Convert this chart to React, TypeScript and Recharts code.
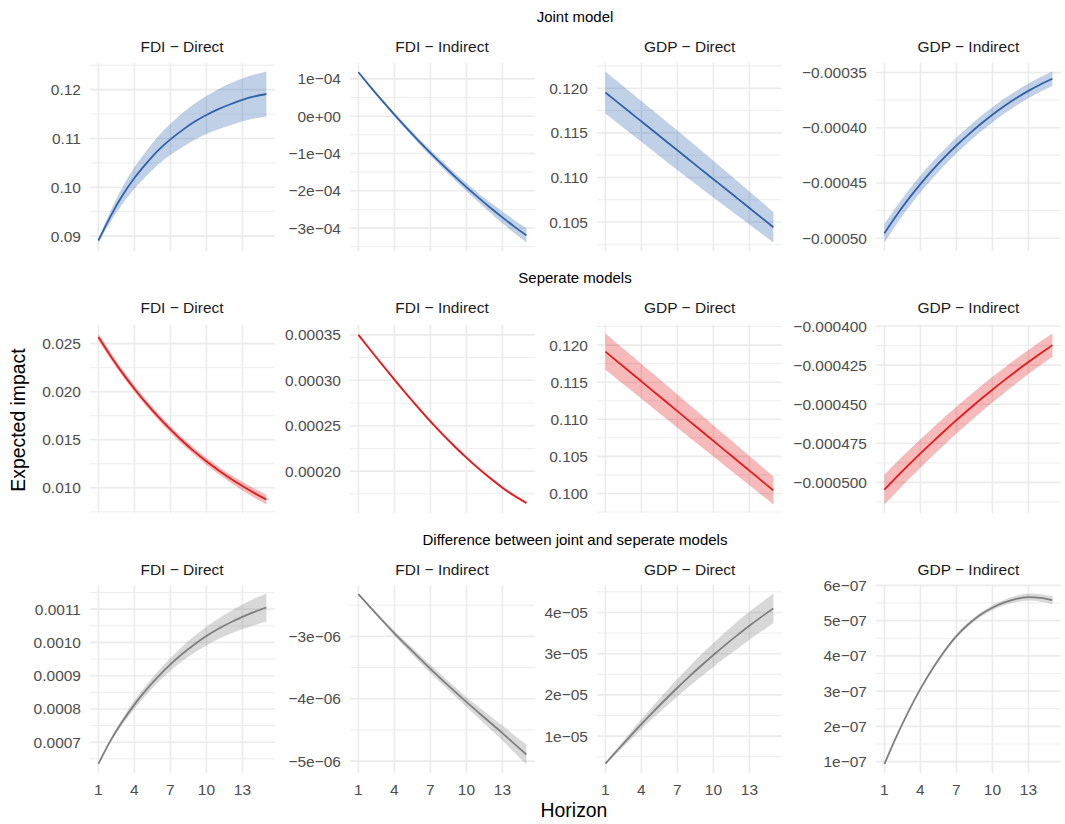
import React from "react";
import { Area, CartesianGrid, ComposedChart, Line, XAxis, YAxis } from "recharts";

// Horizon (x) values shared by every panel
const HORIZON = [1, 2, 3, 4, 5, 6, 7, 8, 9, 10, 11, 12, 13, 14, 15];
const X_TICKS = [1, 4, 7, 10, 13];

const SECTION_TITLES = [
  "Joint model",
  "Seperate models",
  "Difference between joint and seperate models",
];
const PANEL_TITLES = ["FDI − Direct", "FDI − Indirect", "GDP − Direct", "GDP − Indirect"];

// ---- Joint model ----
const jointFdiDirMean = [0.0891, 0.094, 0.0983, 0.1019, 0.1049, 0.1076, 0.1098, 0.1117, 0.1134, 0.1148, 0.116, 0.117, 0.1179, 0.1186, 0.1191];
const jointFdiDirLo = [0.0887, 0.0929, 0.0966, 0.0997, 0.1023, 0.1047, 0.1066, 0.1082, 0.1097, 0.1109, 0.1119, 0.1127, 0.1135, 0.1141, 0.1145];
const jointFdiDirHi = [0.0895, 0.0951, 0.1, 0.1041, 0.1075, 0.1105, 0.113, 0.1152, 0.1171, 0.1187, 0.1201, 0.1213, 0.1223, 0.1231, 0.1237];

const jointFdiIndMean = [1.177e-4, 0.787e-4, 0.409e-4, 0.043e-4, -0.311e-4, -0.653e-4, -0.983e-4, -1.301e-4, -1.607e-4, -1.901e-4, -2.183e-4, -2.454e-4, -2.713e-4, -2.96e-4, -3.195e-4];
const jointFdiIndLo = [1.157e-4, 0.757e-4, 0.369e-4, -0.007e-4, -0.371e-4, -0.723e-4, -1.063e-4, -1.391e-4, -1.707e-4, -2.011e-4, -2.303e-4, -2.594e-4, -2.873e-4, -3.13e-4, -3.385e-4];
const jointFdiIndHi = [1.197e-4, 0.817e-4, 0.449e-4, 0.093e-4, -0.251e-4, -0.583e-4, -0.903e-4, -1.211e-4, -1.507e-4, -1.791e-4, -2.063e-4, -2.314e-4, -2.553e-4, -2.79e-4, -3.005e-4];

const jointGdpDirMean = [0.11952, 0.11844, 0.11736, 0.11628, 0.1152, 0.11412, 0.11304, 0.11196, 0.11088, 0.1098, 0.10873, 0.10765, 0.10657, 0.10549, 0.10441];
const jointGdpDirLo = [0.11717, 0.11611, 0.11505, 0.11399, 0.11293, 0.11188, 0.11083, 0.10979, 0.10876, 0.10774, 0.10673, 0.10572, 0.10471, 0.10371, 0.10271];
const jointGdpDirHi = [0.12187, 0.12077, 0.11967, 0.11857, 0.11747, 0.11636, 0.11525, 0.11413, 0.113, 0.11186, 0.11073, 0.10958, 0.10843, 0.10727, 0.10611];

const jointGdpIndMean = [-4.955e-4, -4.794e-4, -4.646e-4, -4.51e-4, -4.384e-4, -4.268e-4, -4.161e-4, -4.062e-4, -3.969e-4, -3.883e-4, -3.804e-4, -3.732e-4, -3.667e-4, -3.609e-4, -3.557e-4];
const jointGdpIndLo = [-5.038e-4, -4.875e-4, -4.725e-4, -4.587e-4, -4.459e-4, -4.341e-4, -4.233e-4, -4.133e-4, -4.039e-4, -3.952e-4, -3.872e-4, -3.799e-4, -3.733e-4, -3.674e-4, -3.622e-4];
const jointGdpIndHi = [-4.872e-4, -4.713e-4, -4.567e-4, -4.433e-4, -4.309e-4, -4.195e-4, -4.089e-4, -3.991e-4, -3.899e-4, -3.814e-4, -3.736e-4, -3.665e-4, -3.601e-4, -3.544e-4, -3.492e-4];

// ---- Separate models ----
const sepFdiDirMean = [0.02569, 0.02375, 0.02196, 0.02031, 0.01878, 0.01737, 0.01607, 0.01487, 0.01377, 0.01276, 0.01183, 0.01097, 0.01018, 0.00945, 0.00878];
const sepFdiDirLo = [0.02533, 0.0234, 0.02162, 0.01998, 0.01845, 0.01704, 0.01573, 0.01452, 0.01341, 0.01238, 0.01143, 0.01055, 0.00973, 0.00897, 0.00827];
const sepFdiDirHi = [0.02605, 0.0241, 0.0223, 0.02064, 0.01911, 0.0177, 0.01641, 0.01522, 0.01413, 0.01314, 0.01223, 0.01139, 0.01063, 0.00993, 0.00929];

const sepFdiIndMean = [3.5e-4, 3.334e-4, 3.17e-4, 3.007e-4, 2.849e-4, 2.696e-4, 2.547e-4, 2.407e-4, 2.274e-4, 2.149e-4, 2.031e-4, 1.921e-4, 1.818e-4, 1.728e-4, 1.648e-4];
const sepFdiIndLo = [3.485e-4, 3.319e-4, 3.155e-4, 2.992e-4, 2.834e-4, 2.681e-4, 2.532e-4, 2.392e-4, 2.259e-4, 2.134e-4, 2.016e-4, 1.906e-4, 1.803e-4, 1.713e-4, 1.633e-4];
const sepFdiIndHi = [3.515e-4, 3.349e-4, 3.185e-4, 3.022e-4, 2.864e-4, 2.711e-4, 2.562e-4, 2.422e-4, 2.289e-4, 2.164e-4, 2.046e-4, 1.936e-4, 1.833e-4, 1.743e-4, 1.663e-4];

const sepGdpDirMean = [0.11912, 0.11778, 0.11645, 0.11511, 0.11377, 0.11244, 0.1111, 0.10976, 0.10843, 0.10709, 0.10575, 0.10442, 0.10308, 0.10174, 0.1004];
const sepGdpDirLo = [0.11668, 0.11537, 0.11407, 0.11276, 0.11145, 0.11016, 0.10886, 0.10756, 0.10627, 0.10497, 0.10368, 0.1024, 0.10111, 0.09981, 0.09852];
const sepGdpDirHi = [0.12156, 0.12019, 0.11883, 0.11746, 0.11609, 0.11472, 0.11334, 0.11196, 0.11059, 0.10921, 0.10782, 0.10644, 0.10505, 0.10367, 0.10228];

const sepGdpIndMean = [-5.046e-4, -4.967e-4, -4.89e-4, -4.815e-4, -4.742e-4, -4.671e-4, -4.602e-4, -4.535e-4, -4.47e-4, -4.407e-4, -4.346e-4, -4.287e-4, -4.23e-4, -4.175e-4, -4.122e-4];
const sepGdpIndLo = [-5.141e-4, -5.061e-4, -4.982e-4, -4.906e-4, -4.831e-4, -4.759e-4, -4.688e-4, -4.62e-4, -4.553e-4, -4.489e-4, -4.426e-4, -4.366e-4, -4.307e-4, -4.251e-4, -4.196e-4];
const sepGdpIndHi = [-4.951e-4, -4.873e-4, -4.798e-4, -4.724e-4, -4.653e-4, -4.583e-4, -4.516e-4, -4.45e-4, -4.387e-4, -4.325e-4, -4.266e-4, -4.208e-4, -4.153e-4, -4.099e-4, -4.048e-4];

// ---- Difference ----
const diffFdiDirMean = [6.35e-4, 7.04e-4, 7.62e-4, 8.13e-4, 8.58e-4, 8.98e-4, 9.34e-4, 9.66e-4, 9.94e-4, 10.19e-4, 10.41e-4, 10.6e-4, 10.77e-4, 10.92e-4, 11.05e-4];
const diffFdiDirLo = [6.33e-4, 6.99e-4, 7.53e-4, 8.0e-4, 8.43e-4, 8.81e-4, 9.15e-4, 9.44e-4, 9.69e-4, 9.91e-4, 10.1e-4, 10.26e-4, 10.4e-4, 10.52e-4, 10.63e-4];
const diffFdiDirHi = [6.37e-4, 7.09e-4, 7.71e-4, 8.26e-4, 8.73e-4, 9.15e-4, 9.53e-4, 9.88e-4, 10.19e-4, 10.47e-4, 10.72e-4, 10.94e-4, 11.14e-4, 11.32e-4, 11.47e-4];

const diffFdiIndMean = [-2.323e-6, -2.535e-6, -2.745e-6, -2.95e-6, -3.143e-6, -3.333e-6, -3.52e-6, -3.7e-6, -3.877e-6, -4.05e-6, -4.218e-6, -4.385e-6, -4.55e-6, -4.723e-6, -4.893e-6];
const diffFdiIndLo = [-2.333e-6, -2.555e-6, -2.775e-6, -2.99e-6, -3.193e-6, -3.393e-6, -3.585e-6, -3.77e-6, -3.952e-6, -4.13e-6, -4.308e-6, -4.49e-6, -4.67e-6, -4.863e-6, -5.053e-6];
const diffFdiIndHi = [-2.313e-6, -2.515e-6, -2.715e-6, -2.91e-6, -3.093e-6, -3.273e-6, -3.455e-6, -3.63e-6, -3.802e-6, -3.97e-6, -4.128e-6, -4.28e-6, -4.43e-6, -4.583e-6, -4.733e-6];

const diffGdpDirMean = [0.333e-5, 0.657e-5, 0.976e-5, 1.29e-5, 1.594e-5, 1.889e-5, 2.174e-5, 2.449e-5, 2.714e-5, 2.969e-5, 3.215e-5, 3.451e-5, 3.677e-5, 3.893e-5, 4.099e-5];
const diffGdpDirLo = [0.313e-5, 0.597e-5, 0.886e-5, 1.17e-5, 1.444e-5, 1.709e-5, 1.964e-5, 2.209e-5, 2.444e-5, 2.679e-5, 2.905e-5, 3.121e-5, 3.337e-5, 3.543e-5, 3.739e-5];
const diffGdpDirHi = [0.353e-5, 0.717e-5, 1.066e-5, 1.41e-5, 1.744e-5, 2.069e-5, 2.384e-5, 2.689e-5, 2.984e-5, 3.259e-5, 3.525e-5, 3.781e-5, 4.017e-5, 4.243e-5, 4.459e-5];

const diffGdpIndMean = [0.93e-7, 1.708e-7, 2.419e-7, 3.064e-7, 3.63e-7, 4.129e-7, 4.561e-7, 4.896e-7, 5.164e-7, 5.364e-7, 5.514e-7, 5.614e-7, 5.667e-7, 5.642e-7, 5.582e-7];
const diffGdpIndLo = [0.92e-7, 1.688e-7, 2.389e-7, 3.029e-7, 3.59e-7, 4.084e-7, 4.511e-7, 4.841e-7, 5.104e-7, 5.294e-7, 5.434e-7, 5.524e-7, 5.567e-7, 5.537e-7, 5.472e-7];
const diffGdpIndHi = [0.94e-7, 1.728e-7, 2.449e-7, 3.099e-7, 3.67e-7, 4.174e-7, 4.611e-7, 4.951e-7, 5.224e-7, 5.434e-7, 5.594e-7, 5.704e-7, 5.767e-7, 5.747e-7, 5.692e-7];

// ---- y-axis ticks per panel (major with labels, minor for grid only) ----
const ticksDec2 = [0.09, 0.1, 0.11, 0.12];
const labelsDec2 = ["0.09", "0.10", "0.11", "0.12"];
const ticksE4 = [-3e-4, -2e-4, -1e-4, 0, 1e-4];
const labelsE4 = ["−3e−04", "−2e−04", "−1e−04", "0e+00", "1e−04"];
const ticksGdpJ = [0.105, 0.11, 0.115, 0.12];
const labelsGdpJ = ["0.105", "0.110", "0.115", "0.120"];
const ticksGdpIndJ = [-5e-4, -4.5e-4, -4e-4, -3.5e-4];
const labelsGdpIndJ = ["−0.00050", "−0.00045", "−0.00040", "−0.00035"];
const ticksFdiS = [0.01, 0.015, 0.02, 0.025];
const labelsFdiS = ["0.010", "0.015", "0.020", "0.025"];
const ticksFdiIndS = [2e-4, 2.5e-4, 3e-4, 3.5e-4];
const labelsFdiIndS = ["0.00020", "0.00025", "0.00030", "0.00035"];
const ticksGdpS = [0.1, 0.105, 0.11, 0.115, 0.12];
const labelsGdpS = ["0.100", "0.105", "0.110", "0.115", "0.120"];
const ticksGdpIndS = [-5e-4, -4.75e-4, -4.5e-4, -4.25e-4, -4e-4];
const labelsGdpIndS = ["−0.000500", "−0.000475", "−0.000450", "−0.000425", "−0.000400"];
const ticksFdiD = [7e-4, 8e-4, 9e-4, 10e-4, 11e-4];
const labelsFdiD = ["0.0007", "0.0008", "0.0009", "0.0010", "0.0011"];
const ticksFdiIndD = [-5e-6, -4e-6, -3e-6];
const labelsFdiIndD = ["−5e−06", "−4e−06", "−3e−06"];
const ticksGdpD = [1e-5, 2e-5, 3e-5, 4e-5];
const labelsGdpD = ["1e−05", "2e−05", "3e−05", "4e−05"];
const ticksGdpIndD = [1e-7, 2e-7, 3e-7, 4e-7, 5e-7, 6e-7];
const labelsGdpIndD = ["1e−07", "2e−07", "3e−07", "4e−07", "5e−07", "6e−07"];

// minor grid lines halfway between majors
const halfSteps = (t: number[]) => {
  const step = t[1] - t[0];
  const out = [t[0] - step / 2];
  t.forEach((v) => out.push(v + step / 2));
  return out;
};

const BLUE = "#2F62AB";
const RED = "#E41A1C";
const GREY = "#7F7F7F";

type PanelDef = {
  row: number;
  col: number;
  mean: number[];
  lo: number[];
  hi: number[];
  ticks: number[];
  labels: string[];
  color: string;
};

const panels: PanelDef[] = [
  { row: 0, col: 0, mean: jointFdiDirMean, lo: jointFdiDirLo, hi: jointFdiDirHi, ticks: ticksDec2, labels: labelsDec2, color: BLUE },
  { row: 0, col: 1, mean: jointFdiIndMean, lo: jointFdiIndLo, hi: jointFdiIndHi, ticks: ticksE4, labels: labelsE4, color: BLUE },
  { row: 0, col: 2, mean: jointGdpDirMean, lo: jointGdpDirLo, hi: jointGdpDirHi, ticks: ticksGdpJ, labels: labelsGdpJ, color: BLUE },
  { row: 0, col: 3, mean: jointGdpIndMean, lo: jointGdpIndLo, hi: jointGdpIndHi, ticks: ticksGdpIndJ, labels: labelsGdpIndJ, color: BLUE },
  { row: 1, col: 0, mean: sepFdiDirMean, lo: sepFdiDirLo, hi: sepFdiDirHi, ticks: ticksFdiS, labels: labelsFdiS, color: RED },
  { row: 1, col: 1, mean: sepFdiIndMean, lo: sepFdiIndLo, hi: sepFdiIndHi, ticks: ticksFdiIndS, labels: labelsFdiIndS, color: RED },
  { row: 1, col: 2, mean: sepGdpDirMean, lo: sepGdpDirLo, hi: sepGdpDirHi, ticks: ticksGdpS, labels: labelsGdpS, color: RED },
  { row: 1, col: 3, mean: sepGdpIndMean, lo: sepGdpIndLo, hi: sepGdpIndHi, ticks: ticksGdpIndS, labels: labelsGdpIndS, color: RED },
  { row: 2, col: 0, mean: diffFdiDirMean, lo: diffFdiDirLo, hi: diffFdiDirHi, ticks: ticksFdiD, labels: labelsFdiD, color: GREY },
  { row: 2, col: 1, mean: diffFdiIndMean, lo: diffFdiIndLo, hi: diffFdiIndHi, ticks: ticksFdiIndD, labels: labelsFdiIndD, color: GREY },
  { row: 2, col: 2, mean: diffGdpDirMean, lo: diffGdpDirLo, hi: diffGdpDirHi, ticks: ticksGdpD, labels: labelsGdpD, color: GREY },
  { row: 2, col: 3, mean: diffGdpIndMean, lo: diffGdpIndLo, hi: diffGdpIndHi, ticks: ticksGdpIndD, labels: labelsGdpIndD, color: GREY },
];

// layout (plot-panel positions on the page)
const COL_LEFT = [89.6, 349.6, 597.3, 875.9];
const ROW_TOP = [62.6, 324.6, 585];
const PLOT_W = 184.8;
const PLOT_H = 188;
const Y_W = 88;
const TOP_PAD = 12;
const RIGHT_PAD = 4;
const X_H = 30;
const FONT = "'Liberation Sans', Arial, Helvetica, sans-serif";
const GRID = "#EBEBEB";

// vertical grid lines at the horizon breaks, placed with the x-axis scale
const verticalAtBreaks = ({ xAxis }: any) => {
  const s = xAxis?.scale;
  if (!s) return [];
  return X_TICKS.map((t) => (typeof s === "function" ? s(t) : s.map(t)));
};

function Panel({ p }: { p: PanelDef }) {
  const data = HORIZON.map((h, i) => ({ h, mean: p.mean[i], band: [p.lo[i], p.hi[i]] }));
  const min = Math.min(...p.lo);
  const max = Math.max(...p.hi);
  const pad = (max - min) * 0.05;
  const domain: [number, number] = [min - pad, max + pad];
  const inside = (v: number) => v >= domain[0] && v <= domain[1];
  const majors = p.ticks.filter(inside);
  const minors = halfSteps(p.ticks).filter(inside);
  const fmt = (v: number) => {
    const i = p.ticks.findIndex((t) => Math.abs(t - v) <= Math.abs(t) * 1e-6 + 1e-15);
    return i >= 0 ? p.labels[i] : "";
  };
  const bottom = p.row === 2;
  const xh = bottom ? X_H : 0;

  return (
    <div style={{ position: "absolute", left: COL_LEFT[p.col] - Y_W, top: ROW_TOP[p.row] - TOP_PAD }}>
      <ComposedChart
        width={Y_W + PLOT_W + RIGHT_PAD}
        height={TOP_PAD + PLOT_H + xh}
        data={data}
        margin={{ top: TOP_PAD, right: RIGHT_PAD, bottom: 0, left: 0 }}
      >
        <CartesianGrid vertical={false} horizontalValues={minors} stroke={GRID} strokeWidth={0.9} />
        <CartesianGrid
          horizontalValues={majors}
          verticalCoordinatesGenerator={verticalAtBreaks}
          stroke={GRID}
          strokeWidth={1.6}
        />
        <XAxis
          dataKey="h"
          type="number"
          domain={[0.3, 15.7]}
          allowDataOverflow
          ticks={X_TICKS}
          interval={0}
          height={xh}
          axisLine={false}
          tickLine={false}
          tickSize={6}
          tickMargin={5}
          tick={bottom ? { fill: "#4D4D4D", fontSize: 15.5, fontFamily: FONT } : false}
        />
        <YAxis
          type="number"
          domain={domain}
          allowDataOverflow
          ticks={majors}
          interval={0}
          width={Y_W}
          axisLine={false}
          tickLine={false}
          tickSize={6}
          tickMargin={3}
          tickFormatter={fmt}
          tick={{ fill: "#4D4D4D", fontSize: 15.5, fontFamily: FONT }}
        />
        <Area
          dataKey="band"
          type="natural"
          stroke="none"
          fill={p.color}
          fillOpacity={0.3}
          isAnimationActive={false}
          activeDot={false}
        />
        <Line
          dataKey="mean"
          type="natural"
          stroke={p.color}
          strokeWidth={1.8}
          dot={false}
          activeDot={false}
          isAnimationActive={false}
        />
      </ComposedChart>
    </div>
  );
}

const centered = (x: number, y: number, size: number, color: string): React.CSSProperties => ({
  position: "absolute",
  left: x,
  top: y,
  transform: "translate(-50%, -50%)",
  fontSize: size,
  color,
  lineHeight: 1,
  whiteSpace: "nowrap",
  fontFamily: FONT,
});

const SECTION_Y = [16, 277, 539];
const STRIP_Y = [46.5, 308.3, 570];

export default function App() {
  return (
    <div
      style={{
        position: "absolute",
        left: 0,
        top: 0,
        width: 1065,
        height: 824,
        background: "#fff",
        fontFamily: FONT,
        overflow: "hidden",
      }}
    >
      {panels.map((p) => (
        <Panel key={`${p.row}-${p.col}`} p={p} />
      ))}
      {SECTION_TITLES.map((t, r) => (
        <div key={t} style={centered(575, SECTION_Y[r], 15, "#000")}>
          {t}
        </div>
      ))}
      {STRIP_Y.map((y, r) =>
        PANEL_TITLES.map((t, c) => (
          <div key={`${r}-${c}`} style={centered(COL_LEFT[c] + PLOT_W / 2, y, 15.5, "#1A1A1A")}>
            {t}
          </div>
        ))
      )}
      <div style={centered(574, 811, 19.4, "#000")}>Horizon</div>
      <div style={{ ...centered(19, 420, 19.4, "#000"), transform: "translate(-50%, -50%) rotate(-90deg)" }}>
        Expected impact
      </div>
    </div>
  );
}
